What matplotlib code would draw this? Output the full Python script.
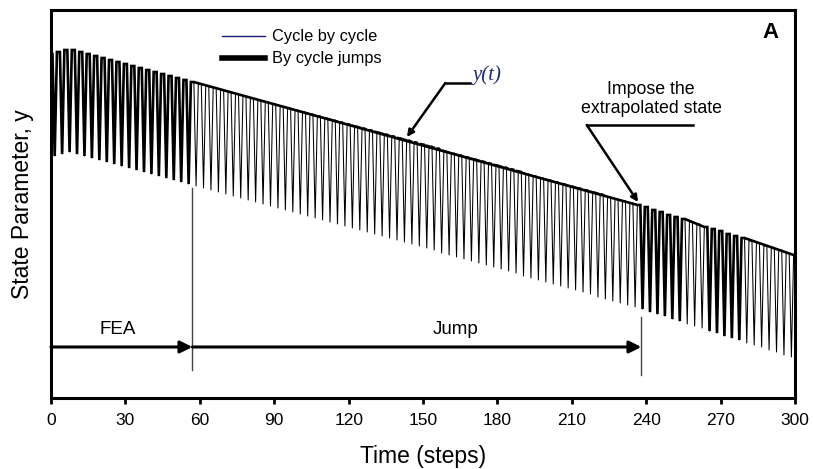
import numpy as np
import matplotlib.pyplot as plt
from matplotlib.lines import Line2D

plt.rcParams['font.family'] = ['Liberation Sans', 'DejaVu Sans']

# picos del ciclo (cada 3 pasos) y valles (a mitad de ciclo)
peak_steps = np.arange(0, 301, 3)
peak_y = [344, 346, 348, 348, 346, 344, 342, 340, 338, 336, 334, 332, 330, 328, 326, 324, 322, 320, 318, 316,
          314, 312, 310, 308, 306, 304, 302, 300, 298, 296, 294, 292, 290, 288, 286, 284, 282, 280, 278, 276,
          274, 272, 270, 268, 266, 264, 262, 260, 258, 256, 254, 252, 250, 247, 245, 243, 241, 239, 237, 235,
          233, 231, 229, 227, 224, 222, 220, 218, 216, 214, 212, 210, 208, 206, 204, 201, 199, 197, 195, 193,
          191, 188, 186, 183, 181, 179, 176, 174, 171, 169, 167, 164, 162, 160, 157, 155, 152, 150, 148, 145, 143]
trough_steps = np.arange(1.5, 300, 3)
trough_y = [242, 244, 246, 244, 242, 240, 238, 236, 234, 232, 230, 228, 226, 224, 222, 220, 218, 216, 214, 212,
            210, 208, 206, 204, 202, 200, 198, 196, 194, 192, 190, 188, 186, 184, 182, 180, 178, 176, 174, 172,
            170, 168, 166, 164, 162, 160, 158, 156, 154, 152, 150, 148, 145, 143, 141, 139, 137, 135, 133, 131,
            129, 127, 125, 122, 120, 118, 116, 114, 112, 110, 108, 106, 104, 101, 99, 97, 95, 93, 91, 89,
            86, 84, 82, 79, 77, 74, 72, 70, 67, 65, 62, 60, 58, 55, 53, 51, 48, 46, 43, 41]

# ventanas calculadas con FEA (ciclo a ciclo)
fea_windows = [(0, 57), (237, 255), (264, 279)]
x_ticks = [0, 30, 60, 90, 120, 150, 180, 210, 240, 270, 300]

# meseta corta en cada pico
w = 0.6
t = np.concatenate([np.clip(peak_steps - w, 0, 300), np.clip(peak_steps + w, 0, 300), trough_steps])
y = np.concatenate([peak_y, peak_y, trough_y])
order = np.argsort(t, kind='stable')
t, y = t[order], y[order]

mask = np.zeros(len(t), dtype=bool)
for a, b in fea_windows:
    mask |= (t >= a - w) & (t <= b + w)
mask |= t >= 300 - w

fig = plt.figure(figsize=(8.13, 4.69), dpi=100)
ax = fig.add_axes([0.0627, 0.1514, 0.9153, 0.8273])

ax.plot(t, y, color='black', lw=0.75)
sel = (peak_steps >= 57) & (peak_steps <= 237)
ax.plot(peak_steps[sel], np.array(peak_y)[sel], color='black', lw=0.8, ls='--')
ax.plot(t[mask], y[mask], color='black', lw=1.9, solid_joinstyle='miter')

ax.set_xlim(0, 300)
ax.set_ylim(0, 388)
ax.set_xticks(x_ticks)
ax.set_yticks([])
ax.tick_params(axis='x', direction='out', length=4, width=2, labelsize=12.5, pad=7)
for s in ax.spines.values():
    s.set_linewidth(2.2)

ax.set_xlabel('Time (steps)', fontsize=16.5, labelpad=12)
ax.set_ylabel('State Parameter, y', fontsize=16.5, labelpad=12)

# flechas FEA / Jump
ax.annotate('', xy=(57, 51), xytext=(0, 51),
            arrowprops=dict(arrowstyle='-|>', lw=2.2, color='black', mutation_scale=18, shrinkA=0, shrinkB=0))
ax.annotate('', xy=(238, 51), xytext=(57, 51),
            arrowprops=dict(arrowstyle='-|>', lw=2.2, color='black', mutation_scale=18, shrinkA=0, shrinkB=0))
ax.text(27, 68, 'FEA', fontsize=13.5, ha='center', va='center')
ax.text(163, 68, 'Jump', fontsize=13.5, ha='center', va='center')
ax.plot([57, 57], [210, 28], color='#444444', lw=1)
ax.plot([238, 238], [81, 23], color='#444444', lw=1)

# anotaciones
ax.text(170, 323, 'y(t)', fontsize=15, style='italic', color='#1f2a6a', ha='left', va='center',
        family=['Liberation Serif', 'DejaVu Serif'])
ax.plot([159, 169], [315, 315], color='black', lw=1.8)
ax.annotate('', xy=(143.5, 261), xytext=(159, 315),
            arrowprops=dict(arrowstyle='-|>', lw=1.8, color='black', mutation_scale=10, shrinkA=0, shrinkB=0))

ax.text(242, 299, 'Impose the\nextrapolated state', fontsize=12.8, ha='center', va='center', linespacing=1.15)
ax.plot([216, 259], [273, 273], color='black', lw=1.8)
ax.annotate('', xy=(236.7, 196), xytext=(216, 273),
            arrowprops=dict(arrowstyle='-|>', lw=1.8, color='black', mutation_scale=10, shrinkA=0, shrinkB=0))

ax.text(290, 365, 'A', fontsize=16, fontweight='bold', ha='center', va='center')

handles = [Line2D([], [], color='#1a1a7a', lw=1),
           Line2D([], [], color='black', lw=4)]
ax.legend(handles, ['Cycle by cycle', 'By cycle jumps'], loc='upper left', bbox_to_anchor=(0.23, 0.95),
          frameon=False, fontsize=11.8, handlelength=2.6, handletextpad=0.45, labelspacing=0.42,
          borderpad=0, borderaxespad=0)

fig.savefig('out.png', dpi=100)
